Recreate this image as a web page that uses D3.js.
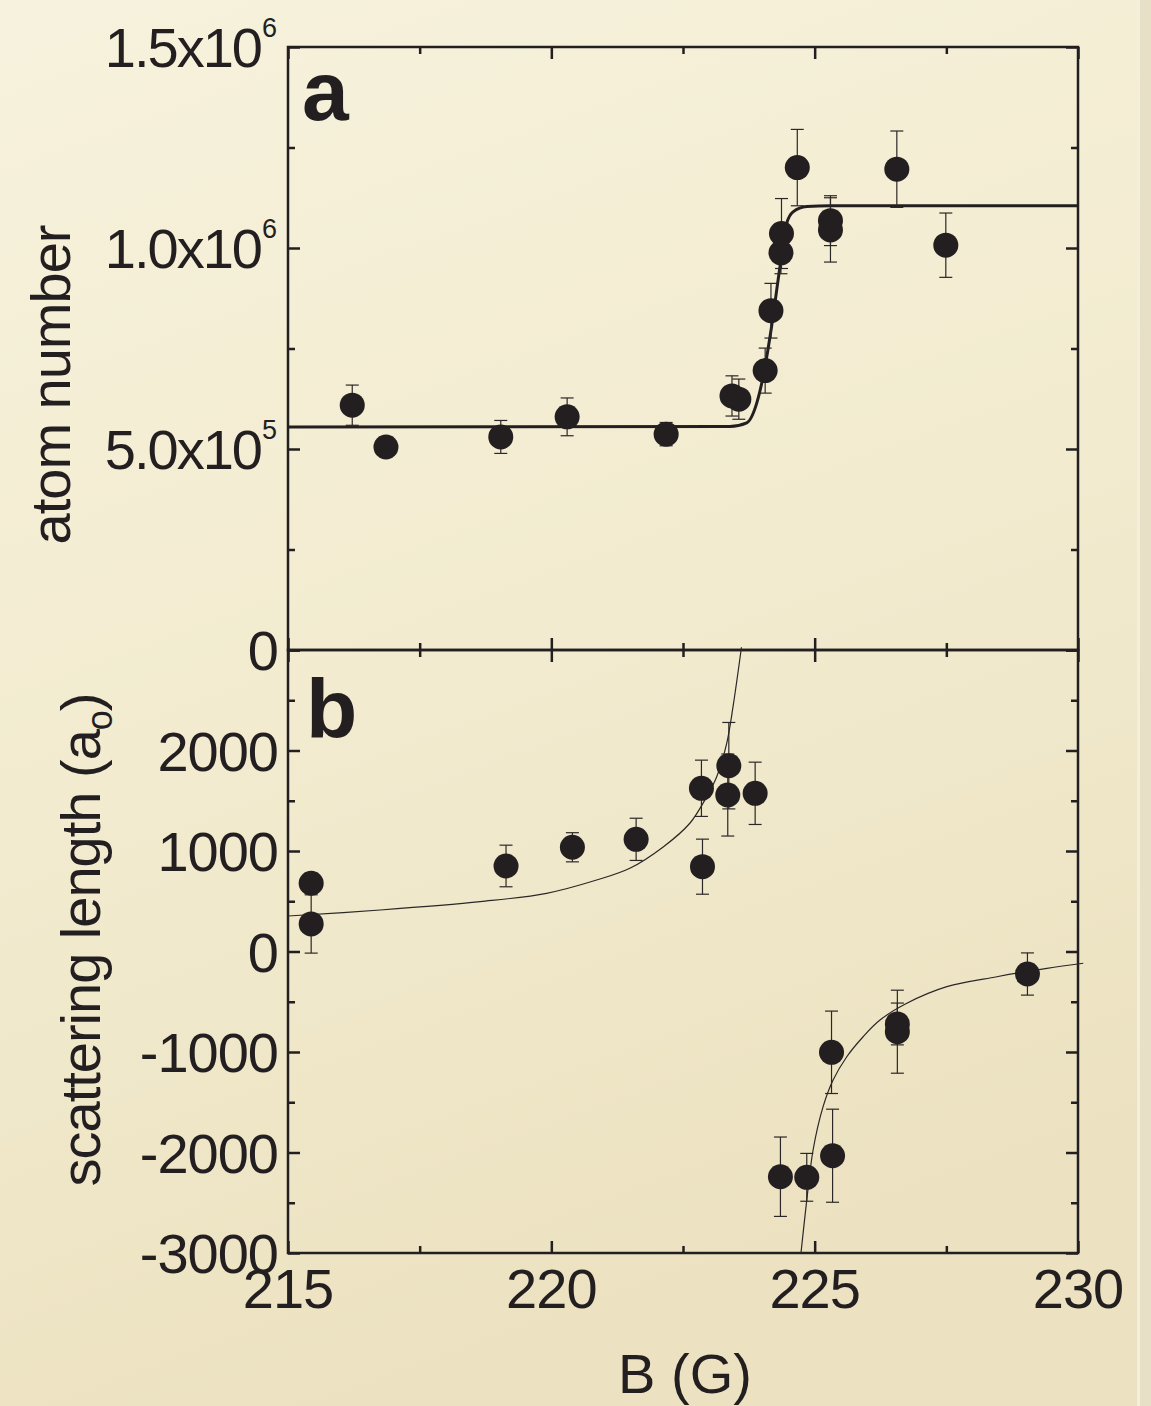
<!DOCTYPE html>
<html>
<head>
<meta charset="utf-8">
<script src="https://cdn.jsdelivr.net/npm/d3@7"></script>
<style>
  html, body { margin: 0; padding: 0; background: #f3edd3; }
  svg { display: block; }
  text { font-family: "Liberation Sans", Arial, sans-serif; fill: #231f20; }
</style>
</head>
<body>
<svg id="chart" width="1151" height="1406"></svg>
<script>
// ---------- data ----------
const xTicks = [215, 220, 225, 230];
const xMinorTicks = [217.5, 222.5, 227.5];

// Panel a: atom number vs B
const aTickValues = [0, 500000, 1000000, 1500000];
const aMinorTicks = [250000, 750000, 1250000];
const aTickMantissa = ["0", "5.0x10", "1.0x10", "1.5x10"];
const aTickExponent = ["", "5", "6", "6"];

const aB   = [216.22, 216.86, 219.04, 220.30, 222.18, 223.43, 223.56, 224.06, 224.17, 224.36, 224.37, 224.67, 225.30, 225.30, 226.56, 227.49];
const aN   = [609000, 505000, 530000, 580000, 537000, 632000, 624000, 695000, 844000, 988000, 1036000, 1200000, 1068000, 1045000, 1196000, 1007000];
const aErr = [50000, 25000, 41000, 47000, 29000, 50000, 50000, 56000, 68000, 52000, 87000, 95000, 62000, 80000, 95000, 80000];

const aFitB = [215, 223.39, 223.71, 223.90, 224.02, 224.18, 224.34, 224.47, 224.59, 224.85, 225.3, 230];
const aFitN = [555000, 556000, 565000, 614000, 679000, 803000, 952000, 1062000, 1090000, 1103000, 1105000, 1105000];

// Panel b: scattering length vs B
const bTickValues = [-3000, -2000, -1000, 0, 1000, 2000];
const bAllMajor = [-3000, -2000, -1000, 0, 1000, 2000, 3000];
const bMinorTicks = [-2500, -1500, -500, 500, 1500, 2500];

const bB   = [215.44, 215.44, 219.14, 220.40, 221.61, 222.85, 222.87, 223.37, 223.35, 223.87, 224.35, 224.85, 225.32, 225.34, 226.57, 226.57, 229.04];
const bA   = [679, 274, 851, 1037, 1116, 1624, 844, 1849, 1557, 1574, -2241, -2247, -1003, -2032, -721, -798, -224];
const bErr = [100, 290, 207, 145, 210, 280, 274, 430, 408, 310, 395, 238, 410, 463, 208, 413, 210];

const bFitUpperB = [215, 216.75, 218.65, 219.91, 220.86, 221.49, 222.13, 222.63, 222.95, 223.14, 223.33, 223.45, 223.61];
const bFitUpperA = [353, 413, 496, 579, 711, 828, 1043, 1276, 1540, 1739, 2072, 2436, 3027];
const bFitLowerB = [224.74, 224.85, 224.97, 225.16, 225.35, 225.61, 225.92, 226.24, 226.75, 227.51, 228.46, 229.41, 230.1];
const bFitLowerA = [-3000, -2473, -1975, -1544, -1279, -1047, -848, -682, -515, -350, -251, -167, -117];

// ---------- layout ----------
const ink = "#231f20";
const L = 288, R = 1078, T = 47, M = 650, Bt = 1253;

const svg = d3.select("#chart");

// background
const defs = svg.append("defs");
const grad = defs.append("linearGradient").attr("id", "bg").attr("x1", 0).attr("y1", 0).attr("x2", 0.3).attr("y2", 1);
grad.append("stop").attr("offset", "0%").attr("stop-color", "#f7f2dd");
grad.append("stop").attr("offset", "55%").attr("stop-color", "#f2ebcf");
grad.append("stop").attr("offset", "100%").attr("stop-color", "#ece2c1");
svg.append("rect").attr("width", 1151).attr("height", 1406).attr("fill", "url(#bg)");
svg.append("rect").attr("x", 1139).attr("y", 0).attr("width", 12).attr("height", 1406).attr("fill", "#e7e0c6");
svg.append("rect").attr("x", 1137).attr("y", 0).attr("width", 3).attr("height", 1406).attr("fill", "#f4efdc");

const x = d3.scaleLinear().domain([215, 230]).range([L, R]);
const yA = d3.scaleLinear().domain([0, 1500000]).range([M, T]);
const yB = d3.scaleLinear().domain([-3000, 3000]).range([Bt, M]);

function tickAxis(axisFn, scale, values, size, transform) {
  const g = svg.append("g").attr("transform", transform)
    .call(axisFn(scale).tickValues(values).tickSize(size).tickSizeOuter(0).tickFormat(""));
  g.select(".domain").remove();
  g.selectAll(".tick line").attr("stroke", ink).attr("stroke-width", 2.5);
  return g;
}

// Panel a ticks
tickAxis(d3.axisRight, yA, aTickValues, 12, `translate(${L},0)`);
tickAxis(d3.axisRight, yA, aMinorTicks, 7, `translate(${L},0)`);
tickAxis(d3.axisLeft, yA, aTickValues, 12, `translate(${R},0)`);
tickAxis(d3.axisLeft, yA, aMinorTicks, 7, `translate(${R},0)`);
tickAxis(d3.axisBottom, x, xTicks, 12, `translate(0,${T})`);
tickAxis(d3.axisBottom, x, xMinorTicks, 7, `translate(0,${T})`);
tickAxis(d3.axisTop, x, xTicks, 12, `translate(0,${M})`);
tickAxis(d3.axisTop, x, xMinorTicks, 7, `translate(0,${M})`);
// Panel b ticks
tickAxis(d3.axisRight, yB, bAllMajor, 12, `translate(${L},0)`);
tickAxis(d3.axisRight, yB, bMinorTicks, 7, `translate(${L},0)`);
tickAxis(d3.axisLeft, yB, bAllMajor, 12, `translate(${R},0)`);
tickAxis(d3.axisLeft, yB, bMinorTicks, 7, `translate(${R},0)`);
tickAxis(d3.axisBottom, x, xTicks, 12, `translate(0,${M})`);
tickAxis(d3.axisBottom, x, xMinorTicks, 7, `translate(0,${M})`);
tickAxis(d3.axisTop, x, xTicks, 12, `translate(0,${Bt})`);
tickAxis(d3.axisTop, x, xMinorTicks, 7, `translate(0,${Bt})`);

// frames
svg.append("rect").attr("x", L).attr("y", T).attr("width", R - L).attr("height", M - T)
  .attr("fill", "none").attr("stroke", ink).attr("stroke-width", 2.5);
svg.append("rect").attr("x", L).attr("y", M).attr("width", R - L).attr("height", Bt - M)
  .attr("fill", "none").attr("stroke", ink).attr("stroke-width", 2.5);

// ---------- panel a ----------
const lineA = d3.line().x(d => x(d[0])).y(d => yA(d[1])).curve(d3.curveMonotoneX);
svg.append("path").datum(aFitB.map((b, i) => [b, aFitN[i]]))
  .attr("d", lineA).attr("fill", "none").attr("stroke", ink).attr("stroke-width", 3);

const ptsA = aB.map((b, i) => ({ b, v: aN[i], e: aErr[i] }));
const errA = svg.append("g").attr("stroke", "#2b2728").attr("stroke-width", 1.2);
ptsA.forEach(p => {
  errA.append("line").attr("x1", x(p.b)).attr("x2", x(p.b)).attr("y1", yA(p.v - p.e)).attr("y2", yA(p.v + p.e));
  [p.v - p.e, p.v + p.e].forEach(v => errA.append("line")
    .attr("x1", x(p.b) - 6.5).attr("x2", x(p.b) + 6.5).attr("y1", yA(v)).attr("y2", yA(v)));
});
svg.append("g").selectAll("circle").data(ptsA).join("circle")
  .attr("cx", d => x(d.b)).attr("cy", d => yA(d.v)).attr("r", 12.5).attr("fill", ink);

// ---------- panel b ----------
const lineB = d3.line().x(d => x(d[0])).y(d => yB(d[1])).curve(d3.curveCatmullRom.alpha(0.5));
svg.append("path").datum(bFitUpperB.map((b, i) => [b, bFitUpperA[i]]))
  .attr("d", lineB).attr("fill", "none").attr("stroke", "#2b2728").attr("stroke-width", 1.2);
svg.append("path").datum(bFitLowerB.map((b, i) => [b, bFitLowerA[i]]))
  .attr("d", lineB).attr("fill", "none").attr("stroke", "#2b2728").attr("stroke-width", 1.2);

const ptsB = bB.map((b, i) => ({ b, v: bA[i], e: bErr[i] }));
const errB = svg.append("g").attr("stroke", "#2b2728").attr("stroke-width", 1.2);
ptsB.forEach(p => {
  errB.append("line").attr("x1", x(p.b)).attr("x2", x(p.b)).attr("y1", yB(p.v - p.e)).attr("y2", yB(p.v + p.e));
  [p.v - p.e, p.v + p.e].forEach(v => errB.append("line")
    .attr("x1", x(p.b) - 6.5).attr("x2", x(p.b) + 6.5).attr("y1", yB(v)).attr("y2", yB(v)));
});
svg.append("g").selectAll("circle").data(ptsB).join("circle")
  .attr("cx", d => x(d.b)).attr("cy", d => yB(d.v)).attr("r", 12.5).attr("fill", ink);

// ---------- labels ----------
const fs = 56;
// x tick labels
svg.append("g").selectAll("text").data(xTicks).join("text")
  .attr("x", d => x(d)).attr("y", 1308).attr("text-anchor", "middle")
  .attr("font-size", fs).attr("letter-spacing", -1).text(d => d);

// panel a y tick labels with superscripts
aTickValues.forEach((v, i) => {
  const t = svg.append("text").attr("x", 277).attr("y", yA(v) + 20)
    .attr("text-anchor", "end").attr("font-size", fs).attr("letter-spacing", -2);
  t.append("tspan").text(aTickMantissa[i]);
  if (aTickExponent[i]) {
    t.append("tspan").attr("font-size", 27).attr("dy", -30).attr("dx", 1).attr("letter-spacing", 0).text(aTickExponent[i]);
  }
});

// panel b y tick labels
svg.append("g").selectAll("text").data(bTickValues).join("text")
  .attr("x", 278).attr("y", d => yB(d) + 20).attr("text-anchor", "end")
  .attr("font-size", fs).attr("letter-spacing", -1).text(d => d);

// axis titles
svg.append("text").attr("transform", "translate(70,385) rotate(-90)")
  .attr("text-anchor", "middle").attr("font-size", fs).attr("letter-spacing", -1).text("atom number");

const st = svg.append("text").attr("transform", "translate(100,940) rotate(-90)")
  .attr("text-anchor", "middle").attr("font-size", fs).attr("letter-spacing", -1);
st.append("tspan").text("scattering length (a");
st.append("tspan").attr("font-size", 36).attr("dy", 12).text("o");
st.append("tspan").attr("dy", -12).text(")");

svg.append("text").attr("x", (L + R) / 2 + 2).attr("y", 1393).attr("text-anchor", "middle")
  .attr("font-size", fs).text("B (G)");

// panel letters
svg.append("text").attr("x", 302).attr("y", 120).attr("font-size", 84).attr("font-weight", "bold").text("a");
svg.append("text").attr("x", 306).attr("y", 738).attr("font-size", 84).attr("font-weight", "bold").text("b");
</script>
</body>
</html>
